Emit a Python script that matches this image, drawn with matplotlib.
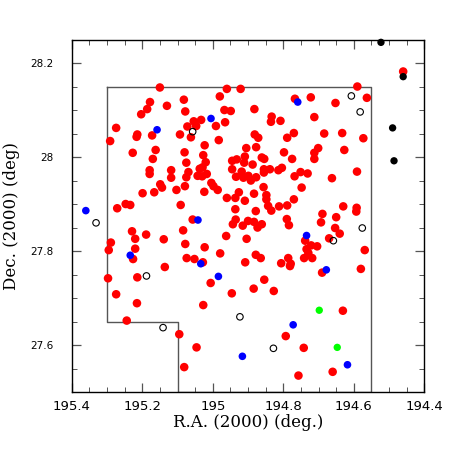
import matplotlib
matplotlib.use('Agg')
import matplotlib.pyplot as plt
from matplotlib.ticker import MultipleLocator

# Member candidates (red)
ra_red = [195.150, 195.178, 195.186, 195.203, 195.130, 195.082, 195.078, 195.274, 195.291, 195.214,
          195.216, 195.172, 195.227, 195.162, 195.170, 195.179, 195.179, 195.118, 195.118, 195.149,
          195.144, 195.093, 195.072, 195.054, 195.047, 195.033, 195.062, 195.080, 195.075, 195.069,
          195.075, 195.079, 195.103, 195.023, 195.027, 195.020, 195.029, 195.037, 195.017, 195.043,
          195.030, 195.004, 194.998, 194.983, 194.991, 194.965, 194.967, 194.949, 194.980, 194.960,
          194.921, 194.905, 194.909, 194.932, 194.945, 194.911, 194.945, 194.918, 194.934, 194.913,
          194.590, 194.563, 194.652, 194.722, 194.767, 194.882, 194.833, 194.835, 194.808, 194.712,
          194.770, 194.789, 194.684, 194.633, 194.573, 194.881, 194.871, 194.877, 194.701, 194.712,
          194.712, 194.627, 194.798, 194.775, 194.861, 194.854, 194.887, 194.855, 194.855, 194.838,
          194.814, 194.804, 194.751, 194.731, 194.768, 194.591, 194.662, 194.899, 194.877, 194.892,
          194.856, 194.748, 194.460, 195.199, 195.166, 195.024, 194.986, 194.960, 194.936, 194.926,
          194.909, 194.936, 194.935, 194.943, 194.915, 194.900, 194.962, 194.904, 195.271, 195.247,
          195.234, 195.091, 195.057, 195.084, 195.229, 195.189, 195.220, 195.139, 195.078, 195.023,
          195.289, 195.295, 195.220, 194.979, 195.074, 195.052, 195.028, 195.226, 195.136, 194.908,
          195.297, 195.214, 195.006, 194.883, 194.848, 194.848, 194.770, 194.843, 194.834, 194.812,
          194.789, 194.878, 194.630, 194.592, 194.593, 194.689, 194.650, 194.693, 194.883, 194.861,
          194.873, 194.790, 194.784, 194.653, 194.640, 194.738, 194.721, 194.704, 194.670, 194.734,
          194.729, 194.718, 194.741, 194.569, 194.878, 194.864, 194.786, 194.779, 194.781, 194.806,
          194.690, 194.580, 194.854, 195.274, 195.215, 195.244, 195.095, 195.046, 195.081, 195.027,
          194.946, 194.884, 194.827, 194.631, 194.793, 194.742, 194.757, 194.660]
dec_red = [28.148, 28.117, 28.102, 28.091, 28.109, 28.122, 28.097, 28.062, 28.034, 28.048,
           28.043, 28.046, 28.009, 28.015, 27.996, 27.972, 27.964, 27.972, 27.956, 27.942,
           27.935, 28.048, 28.065, 28.076, 28.066, 28.079, 28.042, 28.010, 27.988, 27.968,
           27.957, 27.938, 27.930, 28.025, 28.004, 27.989, 27.978, 27.975, 27.964, 27.960,
           27.959, 27.945, 27.938, 28.036, 28.066, 28.074, 28.100, 28.098, 28.129, 28.145,
           28.145, 28.019, 28.001, 27.995, 27.992, 27.988, 27.974, 27.969, 27.958, 27.956,
           28.150, 28.126, 28.115, 28.127, 28.124, 28.102, 28.086, 28.075, 28.077, 28.085,
           28.051, 28.041, 28.050, 28.051, 28.040, 28.048, 28.041, 28.021, 28.019, 28.009,
           27.996, 28.015, 28.010, 27.996, 27.999, 27.996, 27.984, 27.974, 27.967, 27.974,
           27.972, 27.977, 27.968, 27.965, 27.959, 27.969, 27.955, 27.960, 27.957, 27.950,
           27.936, 27.935, 28.182, 27.923, 27.925, 27.926, 27.930, 27.913, 27.913, 27.925,
           27.907, 27.889, 27.867, 27.857, 27.854, 27.864, 27.832, 27.826, 27.891, 27.900,
           27.898, 27.898, 27.867, 27.844, 27.842, 27.835, 27.826, 27.825, 27.815, 27.808,
           27.818, 27.802, 27.805, 27.795, 27.785, 27.783, 27.776, 27.783, 27.766, 27.776,
           27.742, 27.744, 27.732, 27.922, 27.919, 27.910, 27.910, 27.896, 27.886, 27.895,
           27.897, 27.885, 27.895, 27.892, 27.884, 27.879, 27.872, 27.861, 27.862, 27.857,
           27.850, 27.868, 27.855, 27.849, 27.837, 27.822, 27.812, 27.810, 27.827, 27.804,
           27.796, 27.785, 27.785, 27.802, 27.792, 27.785, 27.785, 27.773, 27.768, 27.774,
           27.754, 27.762, 27.739, 27.708, 27.689, 27.652, 27.623, 27.595, 27.553, 27.685,
           27.710, 27.720, 27.715, 27.673, 27.619, 27.594, 27.535, 27.543]

ra_blue = [195.360, 195.158, 195.005, 194.759, 195.042, 195.234, 195.034, 194.984, 194.734,
           194.678, 194.772, 194.916, 194.618]
dec_blue = [27.886, 28.058, 28.082, 28.117, 27.866, 27.791, 27.773, 27.746, 27.833,
            27.760, 27.643, 27.576, 27.558]

ra_green = [194.698, 194.647]
dec_green = [27.674, 27.595]

ra_open = [195.057, 194.607, 194.582, 195.331, 195.188, 195.141, 194.923, 194.828, 194.658, 194.576]
dec_open = [28.054, 28.130, 28.096, 27.860, 27.747, 27.637, 27.660, 27.593, 27.822, 27.849]

ra_black = [194.523, 194.460, 194.490, 194.486]
dec_black = [28.244, 28.171, 28.062, 27.992]

# survey field outline
field_ra = [195.3, 194.55, 194.55, 195.1, 195.1, 195.3, 195.3]
field_dec = [28.15, 28.15, 27.5, 27.5, 27.65, 27.65, 28.15]

fig = plt.figure(figsize=(4.63, 4.63), dpi=100)
ax = fig.add_axes([0.1549, 0.1533, 0.7616, 0.7613])

ax.plot(field_ra, field_dec, color='#555555', lw=1.0, zorder=1)

ax.scatter(ra_red, dec_red, s=38, c='#ff0000', edgecolors='none', zorder=2)
ax.scatter(ra_open, dec_open, s=22, facecolors='none', edgecolors='black', linewidths=0.8, zorder=3)
ax.scatter(ra_blue, dec_blue, s=30, c='#0000ff', edgecolors='none', zorder=4)
ax.scatter(ra_green, dec_green, s=28, c='#00ff00', edgecolors='none', zorder=4)
ax.scatter(ra_black, dec_black, s=28, c='black', edgecolors='none', zorder=5, clip_on=False)

ax.set_xlim(195.4, 194.4)
ax.set_ylim(27.5, 28.25)

ax.xaxis.set_major_locator(MultipleLocator(0.2))
ax.xaxis.set_minor_locator(MultipleLocator(0.05))
ax.yaxis.set_major_locator(MultipleLocator(0.2))
ax.yaxis.set_minor_locator(MultipleLocator(0.05))
ax.xaxis.set_major_formatter(plt.FuncFormatter(lambda v, p: f"{v:g}"))
ax.yaxis.set_major_formatter(plt.FuncFormatter(lambda v, p: f"{v:g}"))

ax.tick_params(which='both', direction='in', top=True, right=True, color='#555555')
ax.tick_params(which='major', length=6.5, width=0.9)
ax.tick_params(which='minor', length=3.6, width=0.7)
ax.tick_params(axis='x', which='major', labelsize=9.5, pad=6)
ax.tick_params(axis='y', which='major', labelsize=7.5, pad=13)
for lab in ax.get_xticklabels() + ax.get_yticklabels():
    lab.set_family('DejaVu Sans')

for sp in ax.spines.values():
    sp.set_color('black')
    sp.set_linewidth(1.0)

ax.set_xlabel("R.A. (2000) (deg.)", family='DejaVu Serif', fontsize=12)
ax.set_ylabel("Dec. (2000) (deg)", family='DejaVu Serif', fontsize=12)
ax.xaxis.set_label_coords(0.5, -0.063)
ax.yaxis.set_label_coords(-0.147, 0.5)

fig.savefig('out.png', dpi=100)
